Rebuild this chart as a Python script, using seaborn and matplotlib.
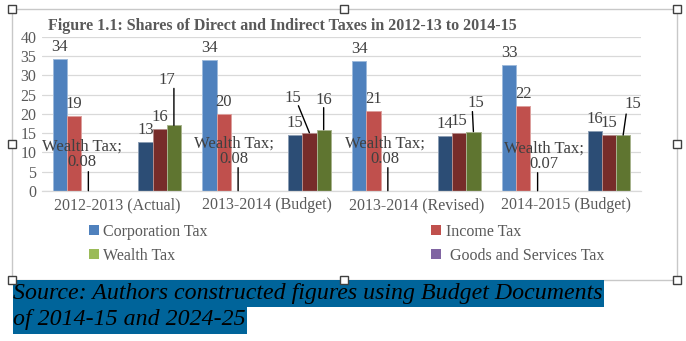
import numpy as np
import pandas as pd
import matplotlib
matplotlib.use("Agg")
import matplotlib.pyplot as plt
import matplotlib.colors as mcolors
from matplotlib.patches import Rectangle, Patch
import seaborn as sns

# ---------------- data ----------------
periods = ["2012-2013 (Actual)", "2013-2014 (Budget)", "2013-2014 (Revised)", "2014-2015 (Budget)"]
series_names = ["Corporation Tax", "Income Tax", "Wealth Tax", "Goods and Services Tax",
                "Series 5", "Series 6", "Series 7", "Series 8", "Series 9"]
corporation_tax = [34.3, 34.0, 33.8, 32.6]
income_tax = [19.4, 20.0, 20.7, 22.1]
wealth_tax = [0.08, 0.08, 0.08, 0.07]
goods_services_tax = [0, 0, 0, 0]
series5 = [0, 0, 0, 0]
series6 = [0, 0, 0, 0]
series7 = [12.8, 14.6, 14.2, 15.5]
series8 = [16.0, 15.1, 15.0, 14.6]
series9 = [17.0, 15.9, 15.4, 14.5]
legend_series = ["Corporation Tax", "Wealth Tax", "Income Tax", "Goods and Services Tax"]
legend_labels = ["Corporation Tax", "Wealth Tax", "Income Tax", " Goods and Services Tax"]
title = "Figure 1.1: Shares of Direct and Indirect Taxes in 2012-13 to 2014-15"
source_lines = ["Source: Authors constructed figures using Budget Documents",
                "of 2014-15 and 2024-25"]

all_values = [corporation_tax, income_tax, wealth_tax, goods_services_tax,
              series5, series6, series7, series8, series9]
colors = ["#4F81BD", "#C0504D", "#9BBB59", "#8064A2", "#4BACC6", "#F79646",
          "#2C4D75", "#772C2A", "#5F7530"]

rows = []
for name, vals in zip(series_names, all_values):
    for p, v in zip(periods, vals):
        rows.append({"period": p, "tax": name, "share": v})
df = pd.DataFrame(rows)

# ---------------- style ----------------
sns.set_theme(style="white")
plt.rcParams["font.family"] = ["Liberation Serif", "DejaVu Serif"]
TXT = "#595959"
LBL = "#404040"

W, H = 686, 341
fig = plt.figure(figsize=(W / 100, H / 100), dpi=100)
fig.patch.set_facecolor("white")

ax = fig.add_axes([42 / W, 1 - 191 / H, 599 / W, 154.3 / H])
sns.barplot(data=df, x="period", y="share", hue="tax", hue_order=series_names,
            order=periods, palette=colors, saturation=1, width=0.857,
            errorbar=None, legend=False, ax=ax)

# bar outlines similar to Excel
for ci, cont in enumerate(ax.containers):
    edge = mcolors.to_rgb(colors[ci])
    edge = tuple(0.55 * c + 0.45 for c in edge)
    for patch in cont:
        if patch.get_height() <= 0:
            patch.set_linewidth(0)
        else:
            patch.set_edgecolor(edge)
            patch.set_linewidth(0.7)

ax.set_ylim(0, 40)
ax.set_yticks(np.arange(0, 41, 5))
ax.set_xlabel("")
ax.set_ylabel("")
ax.yaxis.grid(True, color="#D9D9D9", lw=0.9)
ax.set_axisbelow(True)
for s in ["left", "top", "right"]:
    ax.spines[s].set_visible(False)
ax.spines["bottom"].set_color("#D9D9D9")
ax.spines["bottom"].set_linewidth(0.9)
ax.tick_params(axis="both", length=0, labelsize=11.5, labelcolor=TXT)
ax.tick_params(axis="y", pad=4)
ax.tick_params(axis="x", pad=4.5)

# ---------------- data labels ----------------
# raised labels with leader lines: (series, category) -> text offset, leader start offset (px)
special = {
    (8, 0): dict(dx=-7, dy=45, lx=0, ly=37),
    (7, 1): dict(dx=-17, dy=35, lx=-11, ly=27),
    (8, 1): dict(dx=0, dy=30, lx=0, ly=22),
    (8, 2): dict(dx=2, dy=29, lx=-1, ly=20),
    (8, 3): dict(dx=10, dy=31, lx=3, ly=21),
}
wealth_dx = [-6, -4, -3, 6]
wealth_dy = [37, 40, 40, 35]
wealth_leader = [19, 23, 23, 18]
LFS = 12

def fmt_int(v):
    return str(int(np.floor(v + 0.5)))

for si, cont in enumerate(ax.containers):
    name = series_names[si]
    for patch in cont:
        h = patch.get_height()
        xc = patch.get_x() + patch.get_width() / 2
        cat = int(round(xc))
        if h <= 0 or np.isnan(h):
            continue
        if name == "Wealth Tax":
            ax.annotate(f"Wealth Tax;\n{h:.2f}", xy=(xc, 0), xytext=(wealth_dx[cat], wealth_dy[cat]),
                        textcoords="offset pixels", ha="center", va="center",
                        fontsize=LFS, color=LBL, linespacing=0.95, zorder=5)
            ax.annotate("", xy=(xc, h), xytext=(0, wealth_leader[cat]), textcoords="offset pixels",
                        arrowprops=dict(arrowstyle="-", color="black", lw=1, shrinkA=0, shrinkB=0))
            continue
        if (si, cat) in special:
            sp = special[(si, cat)]
            ax.annotate(fmt_int(h), xy=(xc, h), xytext=(sp["dx"], sp["dy"]),
                        textcoords="offset pixels", ha="center", va="center",
                        fontsize=LFS, color=LBL, zorder=5)
            ax.annotate("", xy=(xc, h), xytext=(sp["lx"], sp["ly"]), textcoords="offset pixels",
                        arrowprops=dict(arrowstyle="-", color="black", lw=1, shrinkA=0, shrinkB=0))
        else:
            ax.annotate(fmt_int(h), xy=(xc, h), xytext=(0, 12),
                        textcoords="offset pixels", ha="center", va="center",
                        fontsize=LFS, color=LBL, zorder=5)

# ---------------- title ----------------
fig.text(48 / W, 1 - 26 / H, title, ha="left", va="center", fontsize=11.5,
         fontweight="bold", color=TXT)

# ---------------- legend ----------------
handles = [Patch(facecolor=colors[series_names.index(n)], edgecolor="none") for n in legend_series]
fig.legend(handles, legend_labels, ncol=2, loc="upper left",
           bbox_to_anchor=(89 / W, 1 - 224 / H), frameon=False, borderpad=0,
           borderaxespad=0, handlelength=0.6, handleheight=0.6, handletextpad=0.3,
           columnspacing=14.0, labelspacing=0.5, fontsize=11.5, labelcolor=TXT)

# ---------------- word frame decorations ----------------
fig.patches.append(Rectangle((12 / W, 1 - 280 / H), (677 - 12) / W, (280 - 9) / H,
                             transform=fig.transFigure, fill=False, edgecolor="#C8C8C8",
                             lw=1, zorder=0))

# source text with highlight
src_texts = []
for i, line in enumerate(source_lines):
    t = fig.text(13 / W, 1 - (293 + 27 * i) / H, line, ha="left", va="center",
                 fontsize=17.2, style="italic", color="black", zorder=3)
    src_texts.append(t)
fig.canvas.draw()
r = fig.canvas.get_renderer()
for i, t in enumerate(src_texts):
    bb = t.get_window_extent(r)
    x0 = 13
    y_top = 280 + 27 * i
    fig.patches.append(Rectangle((x0 / W, 1 - (y_top + 27) / H), (bb.x1 - x0 + 1) / W, 27 / H,
                                 transform=fig.transFigure, facecolor="#00649A",
                                 edgecolor="none", zorder=1))

for (hx, hy) in [(12, 9), (344, 9), (677, 9), (12, 144), (677, 144),
                 (12, 280), (344, 280), (677, 280)]:
    fig.patches.append(Rectangle(((hx - 4) / W, 1 - (hy + 4) / H), 8 / W, 8 / H,
                                 transform=fig.transFigure, facecolor="white",
                                 edgecolor="#404040", lw=1, zorder=4))

fig.savefig("out.png", dpi=100)
